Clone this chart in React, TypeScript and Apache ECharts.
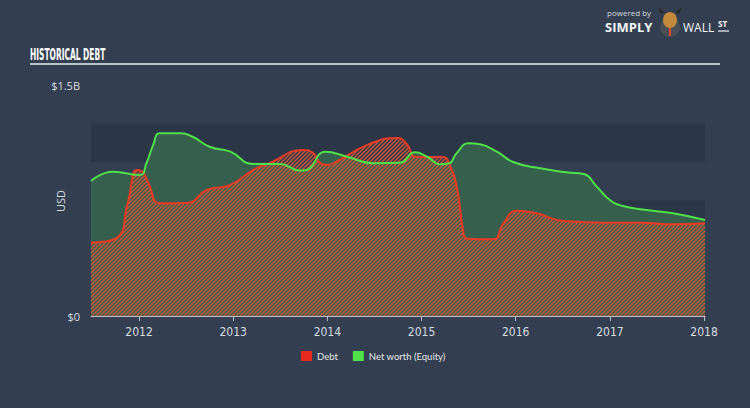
import React, { useEffect, useRef } from "react";
import * as echarts from "echarts";

// Decimal years on x, USD (billions) on y
const debtYears = [2011.49, 2011.76, 2011.88, 2011.976, 2012.03, 2012.1, 2012.22, 2012.51, 2012.72, 2012.97, 2013.21, 2013.39, 2013.74, 2013.85, 2013.92, 2014.0, 2014.13, 2014.42, 2014.74, 2014.85, 2014.93, 2015.09, 2015.23, 2015.3, 2015.38, 2015.44, 2015.48, 2015.76, 2015.87, 2016.01, 2016.22, 2016.51, 2016.97, 2017.32, 2017.67, 2018.01];
const debtValues = [0.476, 0.506, 0.734, 0.948, 0.94, 0.864, 0.732, 0.734, 0.818, 0.851, 0.948, 0.994, 1.078, 1.058, 0.994, 0.981, 1.013, 1.11, 1.156, 1.11, 1.034, 1.032, 1.032, 0.981, 0.818, 0.56, 0.504, 0.498, 0.602, 0.684, 0.667, 0.617, 0.606, 0.606, 0.595, 0.602];

const equityYears = [2011.49, 2011.72, 2012.01, 2012.08, 2012.15, 2012.22, 2012.44, 2012.57, 2012.75, 2012.97, 2013.21, 2013.5, 2013.71, 2013.78, 2013.98, 2014.21, 2014.49, 2014.77, 2014.93, 2015.06, 2015.2, 2015.29, 2015.37, 2015.5, 2015.62, 2015.8, 2015.98, 2016.26, 2016.54, 2016.72, 2016.86, 2017.0, 2017.14, 2017.39, 2017.67, 2018.01];
const equityValues = [0.877, 0.937, 0.916, 0.994, 1.11, 1.186, 1.186, 1.164, 1.099, 1.067, 0.987, 0.987, 0.944, 0.948, 1.067, 1.034, 0.992, 0.995, 1.063, 1.034, 0.985, 0.99, 1.056, 1.121, 1.115, 1.067, 0.998, 0.959, 0.933, 0.922, 0.84, 0.753, 0.714, 0.688, 0.667, 0.623];

const yearTicks = [2012, 2013, 2014, 2015, 2016, 2017, 2018];
const yTickLabels: Record<string, string> = { "0": "$0", "1500000000": "$1.5B" };
const seriesNames = ["Debt", "Net worth (Equity)"];

const BILLION = 1e9;

export default function App() {
  const ref = useRef<HTMLDivElement>(null);
  useEffect(() => {
    document.body.style.margin = "0";
    if (!ref.current) return;
    const chart = echarts.init(ref.current, null, { renderer: "svg" });

    const cv = document.createElement("canvas");
    cv.width = 4;
    cv.height = 4;
    const ctx = cv.getContext("2d")!;
    ctx.strokeStyle = "#c9583a";
    ctx.lineWidth = 1.4;
    ctx.beginPath();
    ctx.moveTo(-1, 5); ctx.lineTo(5, -1);
    ctx.moveTo(-1, 1); ctx.lineTo(1, -1);
    ctx.moveTo(3, 5); ctx.lineTo(5, 3);
    ctx.stroke();

    const debtData = debtYears.map((y, i) => [y, debtValues[i] * BILLION]);
    const equityData = equityYears.map((y, i) => [y, equityValues[i] * BILLION]);

    const labelFont = "'Liberation Sans Narrow', 'DejaVu Sans Condensed', sans-serif";

    chart.setOption({
      animation: false,
      backgroundColor: "#333f50",
      grid: { left: 91, right: 45, top: 85, bottom: 92 },
      legend: {
        left: 301,
        top: 351,
        padding: 0,
        icon: "rect",
        itemWidth: 11,
        itemHeight: 10,
        itemGap: 15,
        textStyle: { color: "#e6e8ea", fontSize: 9.5, fontFamily: "Lato, sans-serif" },
        data: seriesNames,
      },
      xAxis: {
        type: "value",
        min: 2011.49,
        max: 2018.01,
        splitLine: { show: false },
        axisLine: { show: true, lineStyle: { color: "#b9c2cc", width: 1 } },
        axisTick: { show: true, length: 5, customValues: yearTicks, lineStyle: { color: "#b9c2cc" } },
        axisLabel: {
          customValues: yearTicks,
          color: "#d8dde2",
          fontSize: 12,
          fontFamily: labelFont,
          margin: 10,
          formatter: (v: number) => String(v),
        },
      },
      yAxis: {
        type: "value",
        min: 0,
        max: 1.5 * BILLION,
        interval: 0.25 * BILLION,
        axisLine: { show: false },
        axisTick: { show: false },
        splitLine: { show: false },
        splitArea: { show: true, areaStyle: { color: ["rgba(36,47,62,0.55)", "rgba(0,0,0,0)"] } },
        axisLabel: {
          color: "#d8dde2",
          fontSize: 11,
          margin: 11,
          fontFamily: "'Open Sans', sans-serif",
          formatter: (v: number) => yTickLabels[String(v)] ?? "",
        },
      },
      series: [
        {
          name: "equityArea",
          type: "line",
          data: equityData,
          smooth: 0.5,
          showSymbol: false,
          lineStyle: { width: 0 },
          areaStyle: { color: "#365f4d", opacity: 1 },
          silent: true,
        },
        {
          name: "Debt",
          type: "line",
          color: "#e8291f",
          data: debtData,
          smooth: 0.5,
          showSymbol: false,
          lineStyle: { width: 2, color: "#e83a24" },
          areaStyle: { color: { image: cv, repeat: "repeat" }, opacity: 1 },
        },
        {
          name: "Net worth (Equity)",
          type: "line",
          color: "#4fe04a",
          data: equityData,
          smooth: 0.5,
          showSymbol: false,
          lineStyle: { width: 2, color: "#4fe04a" },
        },
      ],
      graphic: [
        {
          type: "text",
          left: 30,
          top: 46,
          scaleX: 0.52,
          style: {
            text: "HISTORICAL DEBT",
            fill: "#ffffff",
            fontSize: 16,
            fontWeight: "bold",
            fontFamily: "'DejaVu Sans Condensed', sans-serif",
          },
        },
        {
          type: "line",
          shape: { x1: 30, y1: 64, x2: 720, y2: 64 },
          style: { stroke: "#b8c2cc", lineWidth: 2 },
        },
        {
          type: "text",
          x: 60,
          y: 201,
          rotation: Math.PI / 2,
          style: {
            text: "USD",
            fill: "#d8dde2",
            fontSize: 11,
            fontFamily: "'Open Sans', sans-serif",
            align: "center",
            verticalAlign: "middle",
          },
        },
        {
          type: "text",
          x: 607,
          y: 8,
          style: { text: "powered by", fill: "#d6dade", fontSize: 8, fontFamily: "'Open Sans', sans-serif" },
        },
        {
          type: "text",
          x: 605,
          y: 20,
          style: { text: "SIMPLY", fill: "#f2f4f6", fontSize: 13, fontWeight: "bold", fontFamily: "'Open Sans', sans-serif" },
        },
        { type: "circle", shape: { cx: 670, cy: 27, r: 10 }, style: { fill: "#4a4f57" } },
        { type: "ellipse", shape: { cx: 670, cy: 20, rx: 7, ry: 8 }, style: { fill: "#c48a3c" } },
        { type: "polygon", shape: { points: [[661, 14], [658, 7], [664, 12]] }, style: { fill: "#2a2a2a" } },
        { type: "polygon", shape: { points: [[679, 14], [682, 7], [676, 12]] }, style: { fill: "#2a2a2a" } },
        { type: "line", shape: { x1: 670, y1: 28, x2: 670, y2: 36 }, style: { stroke: "#e2451f", lineWidth: 2 } },
        {
          type: "text",
          x: 683,
          y: 21,
          style: { text: "WALL", fill: "#f2f4f6", fontSize: 12, fontFamily: "'Open Sans', sans-serif" },
        },
        {
          type: "text",
          x: 718,
          y: 19,
          style: { text: "ST", fill: "#f2f4f6", fontSize: 8, fontWeight: "bold", fontFamily: "'Open Sans', sans-serif" },
        },
        { type: "line", shape: { x1: 718, y1: 31, x2: 729, y2: 31 }, style: { stroke: "#f2f4f6", lineWidth: 1.2 } },
      ],
    });
    return () => chart.dispose();
  }, []);
  return <div ref={ref} style={{ width: 750, height: 408 }} />;
}
